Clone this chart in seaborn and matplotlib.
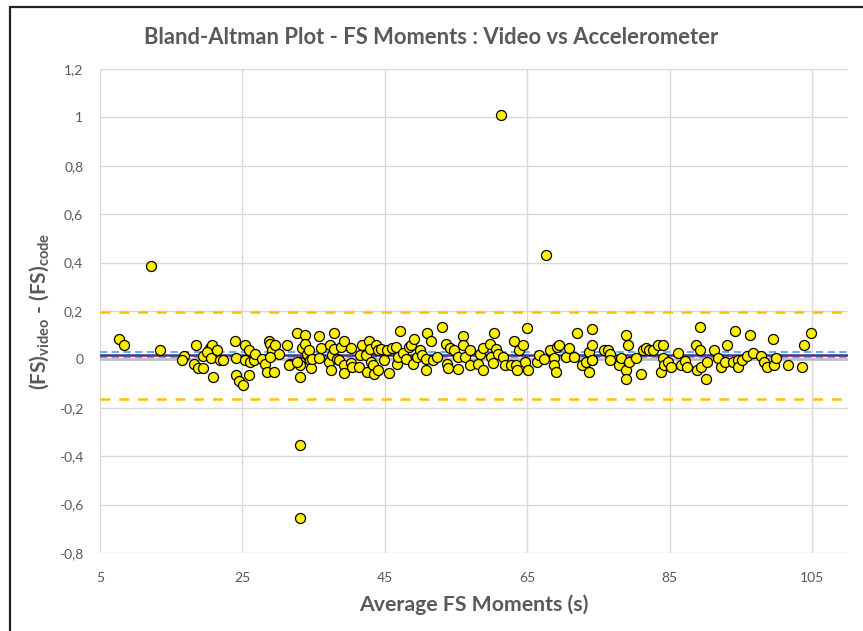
import numpy as np
import pandas as pd
import matplotlib
matplotlib.use("Agg")
import matplotlib.pyplot as plt
from matplotlib.lines import Line2D
import seaborn as sns

# ---- data ----
avg_moments = [
    7.7, 8.4, 13.4, 16.8, 16.5, 18.5, 18.2, 18.7, 19.5, 19.4, 20.4, 20.7, 20.0, 20.6, 20.9,
    21.4, 21.8, 22.3, 23.9, 24.1, 24.1, 24.5, 25.1, 25.3, 25.4, 25.9, 25.9, 26.1, 26.6, 26.8,
    27.7, 28.2, 28.4, 28.7, 28.8, 29.1, 29.6, 30.1, 29.4, 28.9, 31.2, 31.7, 31.5,
    32.6, 33.4, 33.8, 33.8, 34.1, 34.3, 33.1, 33.1, 33.1, 32.7, 34.5, 34.6, 34.8, 35.7, 35.8,
    36.0, 37.1, 37.4, 37.3, 37.6, 37.8, 37.9, 38.2, 38.5, 38.8, 39.3, 39.2, 39.3, 40.2, 40.3,
    40.4, 41.3, 41.5, 41.8, 42.3, 42.5, 42.7, 42.9, 43.0, 43.3, 43.5, 43.8, 44.0, 44.0, 44.4,
    44.8, 45.3, 45.5, 46.0, 46.5, 46.7, 46.8, 47.1, 47.6, 48.0, 48.4, 48.7, 49.0, 49.1, 49.5,
    49.9, 50.2, 50.7, 50.7, 50.9, 51.5, 51.8, 52.3, 53.0, 53.5, 53.7, 53.8, 54.2, 54.7, 55.2,
    55.3, 55.9, 55.9, 56.3, 56.9, 57.0, 58.0, 58.3, 58.7, 58.8, 59.8, 59.9, 60.1, 60.3, 60.6,
    60.8, 61.6, 61.8, 62.7, 63.1, 63.4, 63.6, 63.8, 64.4, 64.6, 64.9, 65.1, 66.4, 66.6, 67.3,
    68.1, 68.7, 68.8, 69.0, 69.2, 69.5, 70.4, 70.9, 71.6, 71.9, 72.7, 73.2, 73.7, 73.7, 74.1,
    74.1, 74.1, 74.0, 75.7, 76.3, 76.6, 76.6, 77.9, 78.1, 78.9, 79.1, 78.9, 78.9, 79.3, 80.3,
    81.0, 81.2, 81.6, 82.1, 82.6, 83.3, 84.0, 84.0, 83.8, 84.2, 84.7, 85.1, 86.1, 86.6, 87.1,
    87.4, 88.7, 89.2, 89.2, 88.8, 89.4, 90.1, 90.2, 91.2, 91.8, 92.2, 92.8, 93.0, 93.8, 94.2,
    94.5, 94.5, 95.1, 95.8, 96.2, 96.6, 97.8, 98.2, 98.7, 99.5, 99.6, 99.9, 101.6, 103.5,
    103.8, 104.8,
    12.2, 67.6, 61.3, 33.1, 33.1,
]
diff_moments = [
    0.085, 0.058, 0.037, 0.016, -0.004, 0.058, -0.021, -0.035, -0.035, 0.016, 0.048, 0.060,
    0.030, 0.005, -0.073, 0.037, -0.004, -0.004, 0.076, 0.007, -0.063, -0.091, -0.105, 0.058,
    -0.004, -0.063, 0.037, -0.011, -0.004, 0.023, 0.003, -0.021, -0.052, 0.078, 0.062, 0.037,
    0.058, 0.023, -0.052, 0.010, 0.058, -0.021, -0.025,
    0.109, 0.048, 0.099, 0.065, 0.023, 0.037, -0.011, -0.025, -0.073, -0.011, -0.004, -0.034,
    0.003, 0.006, 0.098, 0.048, -0.011, -0.045, 0.058, 0.017, 0.044, 0.109, 0.003, -0.004,
    0.051, 0.078, -0.025, -0.055, 0.048, -0.015, -0.032, -0.032, 0.017, 0.058, 0.017, -0.052,
    0.076, 0.044, -0.011, -0.025, -0.062, 0.058, -0.043, 0.037, 0.044, -0.001, 0.040, -0.055,
    0.048, 0.051, -0.021, 0.012, 0.118, 0.026, 0.003, 0.051, 0.058, -0.021, 0.085, 0.010,
    0.037, 0.017, -0.045, 0.003, 0.109, 0.078, -0.004, 0.010, 0.136, 0.065, -0.021, -0.034,
    0.048, 0.037, 0.010, -0.039, 0.098, 0.058, 0.010, 0.037, -0.022, -0.021, 0.023, 0.048,
    -0.043, 0.065, 0.010, -0.014, 0.109, 0.044, 0.023, 0.010, -0.022, -0.022, 0.078, -0.025,
    -0.043, 0.037, 0.058, -0.011, 0.128, -0.043, -0.011, 0.017, 0.003, 0.040, 0.007, -0.022,
    -0.052, 0.051, 0.058, 0.010, 0.048, 0.012, 0.109, -0.022, -0.011, 0.030, -0.052, 0.127,
    0.058, -0.004, -0.002, 0.040, 0.040, 0.023, -0.002, -0.022, 0.007, 0.099, 0.058, -0.043,
    -0.080, -0.011, 0.007, -0.062, 0.040, 0.048, 0.040, 0.040, 0.058, 0.058, 0.007, -0.053,
    -0.022, -0.011, -0.032, 0.026, -0.022, -0.007, -0.032, 0.058, 0.136, 0.040, -0.043, -0.032,
    -0.080, -0.011, 0.040, 0.007, -0.032, -0.011, 0.058, -0.011, 0.117, -0.002, -0.032, -0.002,
    0.016, 0.099, 0.026, 0.016, -0.011, -0.032, 0.085, -0.022, 0.007, -0.022, -0.032, 0.058,
    0.109,
    0.388, 0.430, 1.009, -0.355, -0.656,
]

mean_diff = 0.019
mean_ci = [0.008, 0.029]
limits_of_agreement = [0.198, -0.164]

x_ticks = [5, 25, 45, 65, 85, 105]
y_ticks = [-0.8, -0.6, -0.4, -0.2, 0.0, 0.2, 0.4, 0.6, 0.8, 1.0, 1.2]
y_tick_labels = ["-0,8", "-0,6", "-0,4", "-0,2", "0", "0,2", "0,4", "0,6", "0,8", "1", "1,2"]

title = "Bland-Altman Plot - FS Moments : Video vs Accelerometer"
x_label = "Average FS Moments (s)"

df = pd.DataFrame({"avg": avg_moments, "diff": diff_moments})

# ---- style ----
sns.set_theme(style="white")
plt.rcParams["font.family"] = ["Lato", "DejaVu Sans"]
plt.rcParams["mathtext.fontset"] = "custom"
plt.rcParams["mathtext.rm"] = "Lato"
plt.rcParams["mathtext.bf"] = "Lato:bold"
plt.rcParams["mathtext.it"] = "Lato:italic"

text_gray = "#595959"
grid_gray = "#D9D9D9"

fig = plt.figure(figsize=(8.63, 6.31), dpi=100)
fig.patch.set_facecolor("white")
ax = fig.add_axes([0.1159, 0.1236, 0.8667, 0.767])

ax.set_xlim(5, 110)
ax.set_ylim(-0.8, 1.2)
ax.set_xticks(x_ticks)
ax.set_yticks(y_ticks)
ax.set_yticklabels(y_tick_labels)
ax.grid(True, color=grid_gray, linewidth=1.0)
ax.set_axisbelow(True)
for s in ax.spines.values():
    s.set_visible(False)

# zero axis line
ax.axhline(0, color="#BFBFBF", linewidth=2.0, zorder=1)
# limits of agreement
for v in limits_of_agreement:
    ax.axhline(v, color="#FFC000", linewidth=1.8, linestyle=(0, (4, 3.5)), zorder=2)
# CI of mean
for v in mean_ci:
    ax.axhline(v, color="#3EB4EA", linewidth=1.3, linestyle=(0, (4, 2.5)), zorder=2)
# mean difference
ax.axhline(mean_diff, color="#5B2C8F", linewidth=1.8, zorder=2)

sns.scatterplot(data=df, x="avg", y="diff", ax=ax, color="#FFEF00",
                edgecolor="black", linewidth=0.9, s=52, zorder=3, legend=False)

ax.tick_params(axis="both", length=0, labelsize=10, colors=text_gray)
ax.tick_params(axis="x", pad=14)
ax.tick_params(axis="y", pad=12)

fig.text(0.5, 1 - 38 / 631, title, ha="center", va="center", fontsize=15.8,
         fontweight="bold", color=text_gray)
ax.set_xlabel(x_label, fontsize=15.3, fontweight="bold", color=text_gray, labelpad=7)
ax.set_ylabel(r"(FS)$_{\mathbf{video}}$ - (FS)$_{\mathbf{code}}$", fontsize=15,
              fontweight="bold", color=text_gray, labelpad=6)

# outer frame (top and left edges of the screenshot)
fig.add_artist(Line2D([10 / 863, 10 / 863], [0, 1 - 7 / 631], transform=fig.transFigure,
                      color="#222222", linewidth=1.6))
fig.add_artist(Line2D([10 / 863, 1], [1 - 7 / 631, 1 - 7 / 631], transform=fig.transFigure,
                      color="#222222", linewidth=1.6))

fig.savefig("out.png", dpi=100)
